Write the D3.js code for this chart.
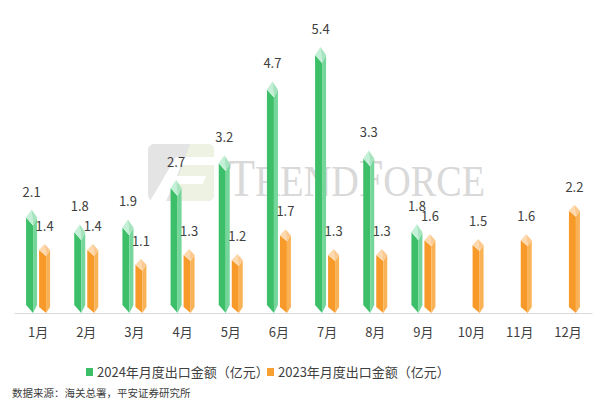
<!DOCTYPE html>
<html><head><meta charset="utf-8">
<script src="https://cdn.jsdelivr.net/npm/d3@7"></script>
<style>html,body{margin:0;padding:0;background:#fff;}svg{display:block;}</style>
</head><body>
<script>
const months = ['1月','2月','3月','4月','5月','6月','7月','8月','9月','10月','11月','12月'];
const v2024 = [2.1,1.8,1.9,2.7,3.2,4.7,5.4,3.3,1.8,null,null,null];
const v2023 = [1.4,1.4,1.1,1.3,1.2,1.7,1.3,1.3,1.6,1.5,1.6,2.2];
const seriesNames = ['2024年月度出口金额（亿元）','2023年月度出口金额（亿元）'];
const source = '数据来源：海关总署，平安证券研究所';

const W = 608, H = 403;
const svg = d3.select('body').append('svg').attr('width', W).attr('height', H);
const font = '"Noto Sans CJK SC","Noto Sans",sans-serif';

// watermark logo + text
const wm = svg.append('g');
const defs = svg.append('defs');
defs.append('clipPath').attr('id','lc').append('rect').attr('x',148).attr('y',144).attr('width',66).attr('height',57).attr('rx',6);
const lg = wm.append('g').attr('clip-path','url(#lc)');
lg.append('rect').attr('x',148).attr('y',144).attr('width',66).attr('height',57).attr('fill','#e4e4e4');
lg.append('path').attr('d','M190,144 L214,144 L214,201 L170,201 Z').attr('fill','#edf2e2');
lg.append('path').attr('d','M176,157 L214,157 L214,165 L181,165 L177,176 L206,176 L203,184 L174,184 L166,201 L150,201 Z').attr('fill','#ffffff');
const wt = wm.append('text').attr('x', 228).attr('y', 196).attr('fill', '#d9d9d9')
  .attr('font-family','"Liberation Serif","DejaVu Serif",serif')
  .attr('textLength', 257).attr('lengthAdjust','spacingAndGlyphs');
wt.append('tspan').attr('font-size', 52).text('T');
wt.append('tspan').attr('font-size', 45).text('REND');
wt.append('tspan').attr('font-size', 52).text('F');
wt.append('tspan').attr('font-size', 45).text('ORCE');

const x = d3.scaleBand().domain(months).range([14, 592]);
const y = d3.scaleLinear().domain([0, 5.4]).range([313, 47]);

// axis
const axis = svg.append('g').attr('transform', 'translate(0,313)')
  .call(d3.axisBottom(x).tickSize(0).tickPadding(0));
axis.select('.domain').attr('stroke', '#d9d9d9').attr('stroke-width', 1);
axis.selectAll('text').attr('font-family', font).attr('font-size', 13).attr('fill', '#404040')
  .attr('dy', null).attr('y', 24);

const bw = 11, off = 6.5;
const styles = [
  {body:['#3cbf68','#74d69a'], cap:['#c4f0d7','#a5e4be'], cap_h:8, off:-off, vals:v2024, leg:'#3dbf6a'},
  {body:['#f79a2a','#f9b356'], cap:['#fdd9ad','#fcc990'], cap_h:6, off:off, vals:v2023, leg:'#f7a032'}
];

styles.forEach(s => {
  const g = svg.append('g');
  months.forEach((m, i) => {
    const v = s.vals[i];
    if (v == null) return;
    const xc = x(m) + x.bandwidth()/2 + s.off;
    const x0 = xc - bw/2, x1 = xc + bw/2, xr = xc + 1.5;
    const yt = y(v), yb = y(0), h = s.cap_h;
    g.append('path').attr('d', `M${x0},${yt+h} L${xr},${yt+2*h} L${xr},${yb} L${x0},${yb-h} Z`).attr('fill', s.body[0]);
    g.append('path').attr('d', `M${xr},${yt+2*h} L${x1},${yt+h} L${x1},${yb-h} L${xr},${yb} Z`).attr('fill', s.body[1]);
    g.append('path').attr('d', `M${xc},${yt} L${x0},${yt+h} L${xr},${yt+2*h} Z`).attr('fill', s.cap[0]);
    g.append('path').attr('d', `M${xc},${yt} L${x1},${yt+h} L${xr},${yt+2*h} Z`).attr('fill', s.cap[1]);
    g.append('text').attr('x', xc).attr('y', yt - 13).attr('text-anchor','middle')
      .attr('font-family', font).attr('font-size', 13).attr('fill', '#404040').text(v.toFixed(1));
  });
});

// legend
const legX = [86, 267];
styles.forEach((s, i) => {
  svg.append('rect').attr('x', legX[i]).attr('y', 368).attr('width', 7).attr('height', 8).attr('fill', s.leg);
  svg.append('text').attr('x', legX[i] + 11).attr('y', 377).attr('font-family', font).attr('font-size', 13)
    .attr('fill', '#404040').text(seriesNames[i]);
});

svg.append('text').attr('x', 12).attr('y', 397).attr('font-family', font).attr('font-size', 10.5)
  .attr('fill', '#404040').text(source);
</script>
</body></html>
